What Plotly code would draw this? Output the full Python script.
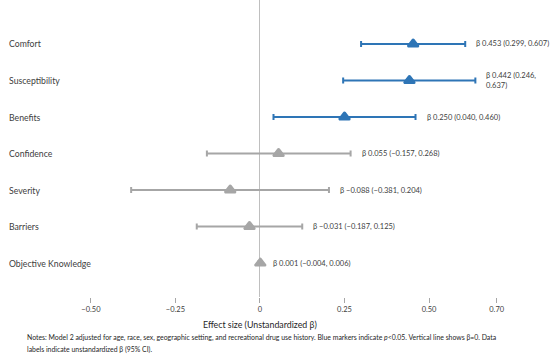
import plotly.graph_objects as go

categories = ["Comfort", "Susceptibility", "Benefits", "Confidence", "Severity", "Barriers", "Objective Knowledge"]
beta = [0.453, 0.442, 0.250, 0.055, -0.088, -0.031, 0.001]
ci_low = [0.299, 0.246, 0.040, -0.157, -0.381, -0.187, -0.004]
ci_high = [0.607, 0.637, 0.460, 0.268, 0.204, 0.125, 0.006]
significant = [True, True, True, False, False, False, False]
labels = [
    "β 0.453 (0.299, 0.607)",
    "β 0.442 (0.246,<br>0.637)",
    "β 0.250 (0.040, 0.460)",
    "β 0.055 (−0.157, 0.268)",
    "β −0.088 (−0.381, 0.204)",
    "β −0.031 (−0.187, 0.125)",
    "β 0.001 (−0.004, 0.006)",
]
tick_vals = [-0.50, -0.25, 0, 0.25, 0.50, 0.70]
tick_text = ["−0.50", "−0.25", "0", "0.25", "0.50", "0.70"]
notes = [
    "Notes: Model 2 adjusted for age, race, sex, geographic setting, and recreational drug use history. "
    "Blue markers indicate <i>p</i>&lt;0.05. Vertical line shows β=0. Data",
    "labels indicate unstandardized β (95% CI).",
]

BLUE = "#2E75B6"
GRAY = "#A6A6A6"
FONT = "Lato"
TXT = "#404040"

fig = go.Figure()
for sig, color in [(True, BLUE), (False, GRAY)]:
    idx = [i for i, s in enumerate(significant) if s == sig]
    fig.add_trace(go.Scatter(
        x=[beta[i] for i in idx],
        y=[i for i in idx],
        mode="markers",
        marker=dict(symbol="triangle-up", size=8, color=color,
                    line=dict(color=color, width=3)),
        error_x=dict(type="data", symmetric=False,
                     array=[ci_high[i] - beta[i] for i in idx],
                     arrayminus=[beta[i] - ci_low[i] for i in idx],
                     color=color, thickness=2, width=3),
        showlegend=False,
        hoverinfo="skip",
    ))

# category labels (left aligned)
for i, cat in enumerate(categories):
    fig.add_annotation(x=0.0077, xref="paper", y=i, yref="y", text=cat,
                       showarrow=False, xanchor="left", yanchor="middle",
                       font=dict(family=FONT, size=8.7, color=TXT))

# data labels
for i, lab in enumerate(labels):
    fig.add_annotation(x=ci_high[i], y=i, xref="x", yref="y", text=lab,
                       showarrow=False, xanchor="left", yanchor="middle",
                       align="left", xshift=9,
                       font=dict(family=FONT, size=7.5, color=TXT))

fig.add_annotation(x=0, xref="x", y=-0.094, yref="paper",
                   text="Effect size (Unstandardized β)", showarrow=False,
                   xanchor="center", yanchor="middle",
                   font=dict(family=FONT, size=8.8, color="#262626"))
for k, line in enumerate(notes):
    fig.add_annotation(x=0.0426, xref="paper", y=-0.135 - k * 0.0404, yref="paper",
                       text=line, showarrow=False, xanchor="left", yanchor="middle",
                       align="left", font=dict(family=FONT, size=6.9, color="#262626"))

fig.update_layout(
    width=550, height=355,
    margin=dict(l=3, r=30, t=0, b=58),
    paper_bgcolor="white", plot_bgcolor="white",
    font=dict(family=FONT, color=TXT),
    xaxis=dict(range=[-0.760, 0.769], tickvals=tick_vals, ticktext=tick_text,
               showgrid=False, showline=False, zeroline=True,
               zerolinecolor="#BFBFBF", zerolinewidth=1,
               ticks="outside", ticklen=5, tickcolor="#A6A6A6",
               tickfont=dict(family=FONT, size=7.5, color=TXT)),
    yaxis=dict(range=[6.93, -1.205], showticklabels=False, showgrid=False,
               showline=False, zeroline=False, ticks=""),
)

post = """
document.body.style.margin='0';
document.querySelectorAll('.scatterlayer .point').forEach(function(p){
  p.style.strokeLinejoin='round';
});
"""
fig.write_html("out.html", post_script=post, config={"displayModeBar": False})
